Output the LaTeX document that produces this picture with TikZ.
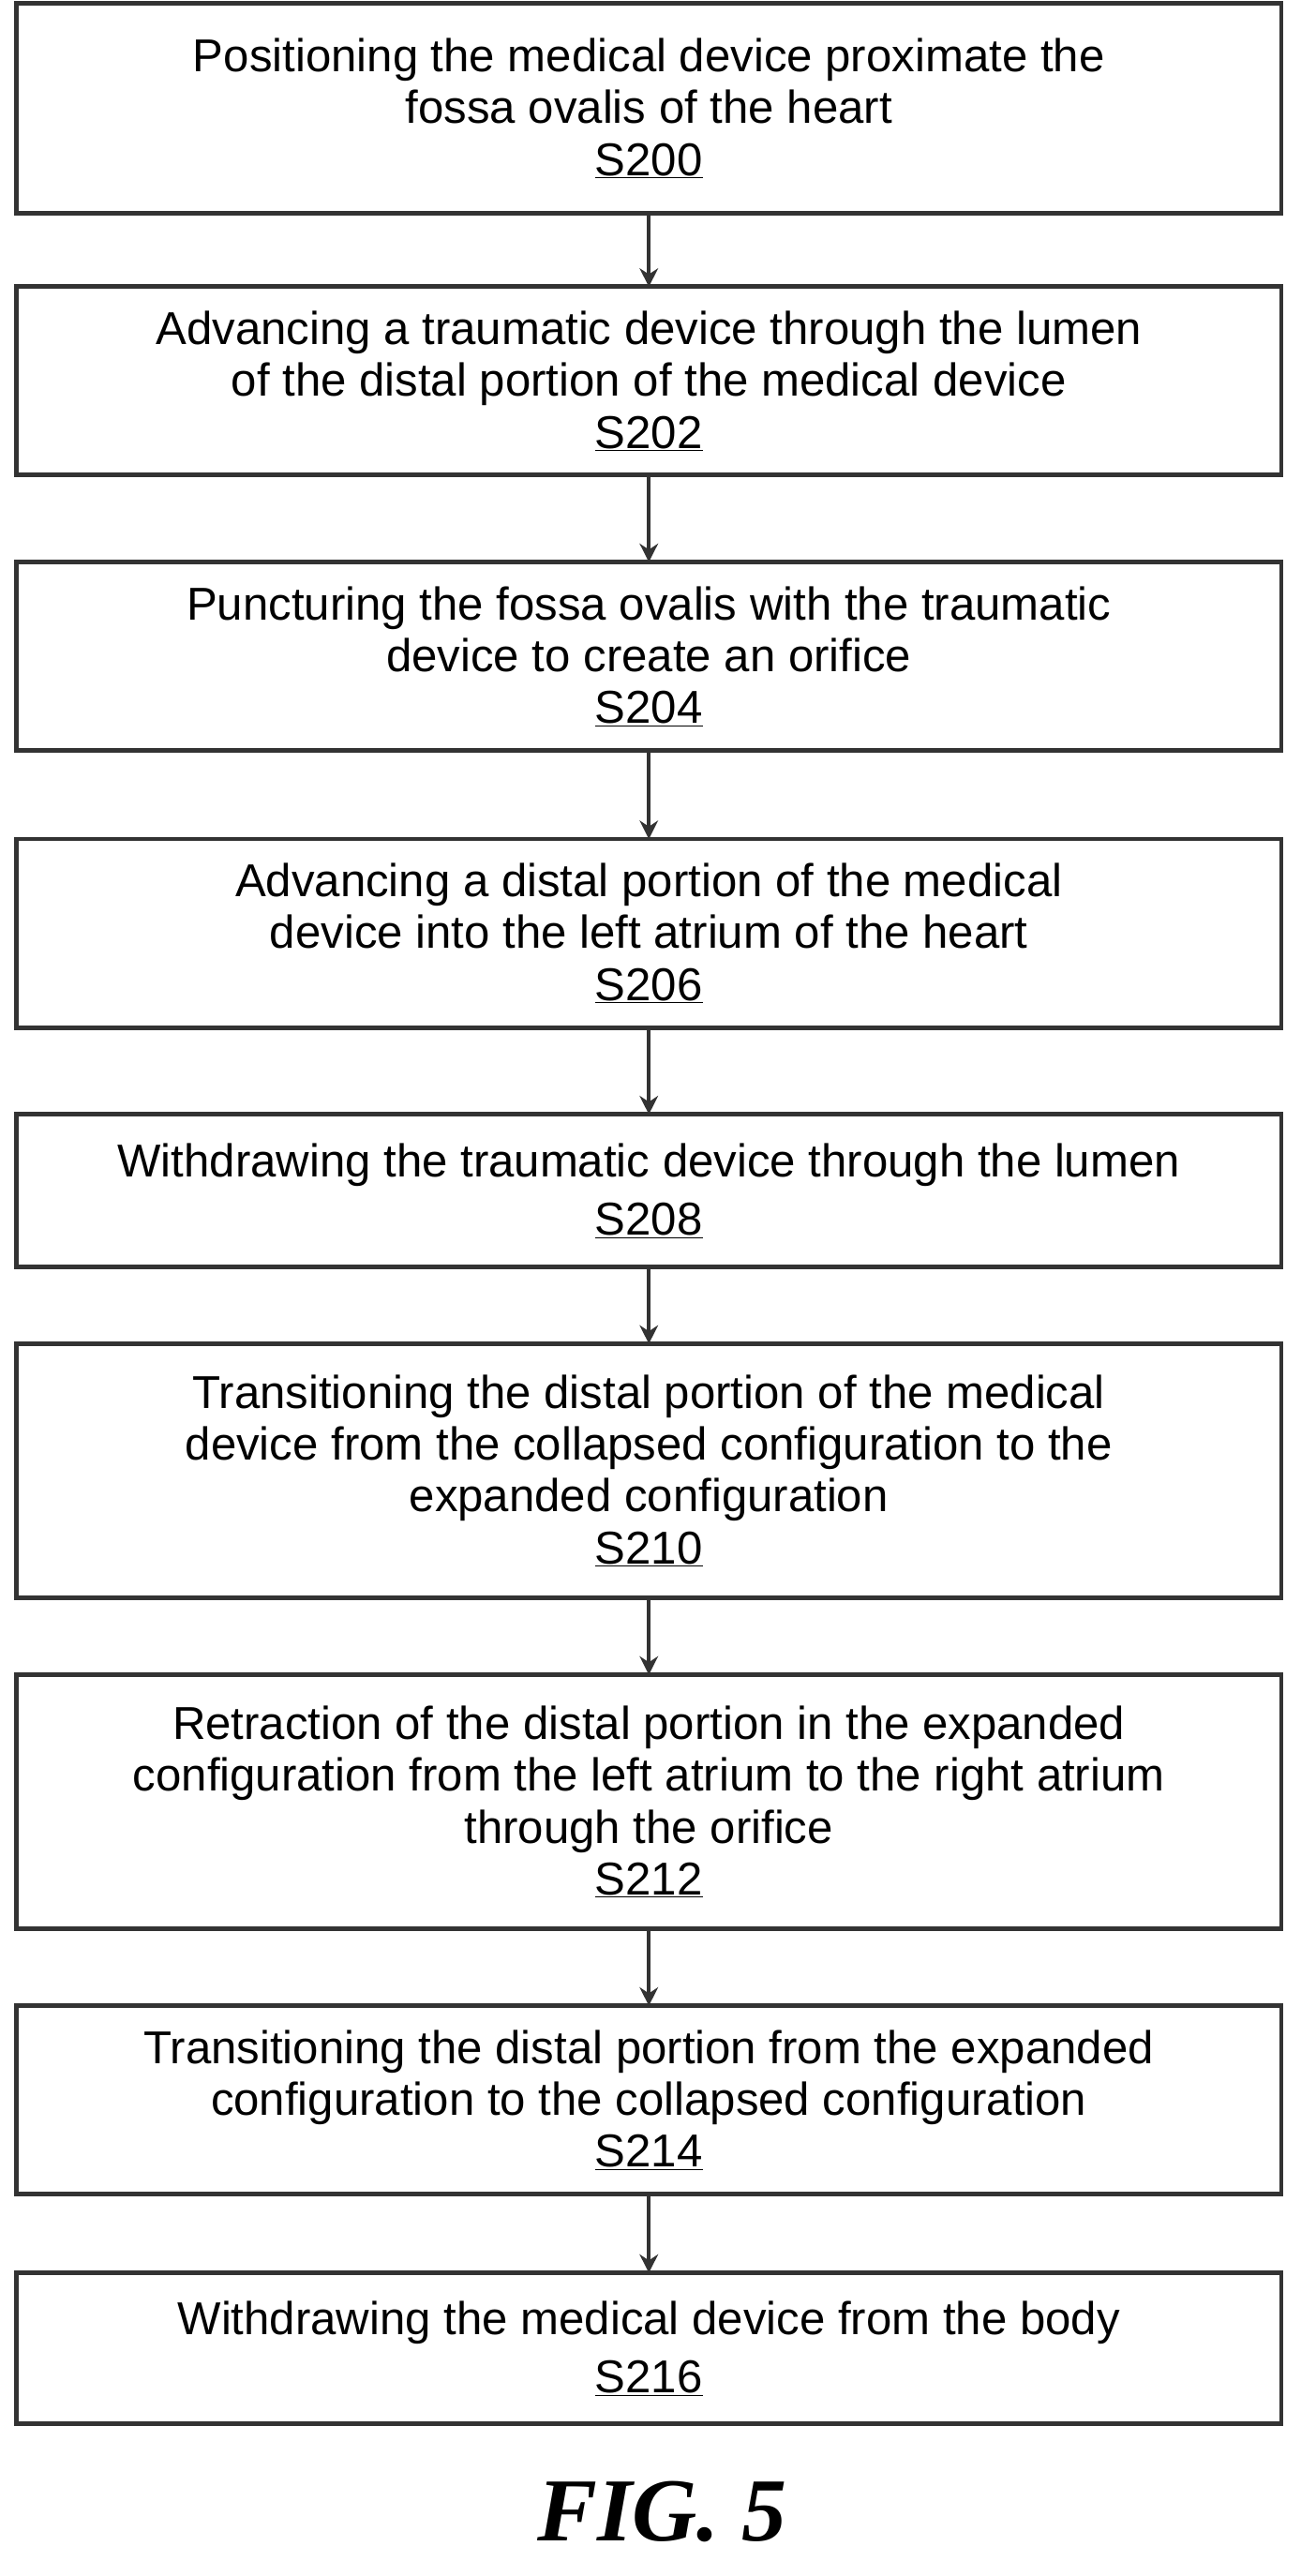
\documentclass[tikz,border=0pt]{standalone}
\usepackage{fontspec}
\usetikzlibrary{arrows.meta}
\setmainfont{Liberation Sans}
\newfontfamily\figfont{Liberation Serif}
\begin{document}
\begin{tikzpicture}[x=0.05cm,y=-0.05cm,
  box/.style={draw=black!80,line width=4pt},
  txt/.style={align=center,font=\fontsize{40}{45}\selectfont},
  arr/.style={draw=black!80,line width=3pt,-{Stealth[length=16pt,width=16pt]}}]
\useasboundingbox (0,0) rectangle (794,1572);
\def\bx#1#2#3#4{\draw[box] (10,#2) rectangle (782,#3); \node[txt] (#1) at (396,{(#2+#3)/2}) {#4};
 \coordinate (#1t) at (396,#2); \coordinate (#1b) at (396,#3);}
\bx{a}{2}{130}{Positioning the medical device proximate the\\fossa ovalis of the heart\\\underline{S200}}
\bx{b}{175}{290}{Advancing a traumatic device through the lumen\\of the distal portion of the medical device\\\underline{S202}}
\bx{c}{343}{458}{Puncturing the fossa ovalis with the traumatic\\device to create an orifice\\\underline{S204}}
\bx{d}{512}{627}{Advancing a distal portion of the medical\\device into the left atrium of the heart\\\underline{S206}}
\bx{e}{680}{773}{Withdrawing the traumatic device through the lumen\\[6pt]\underline{S208}}
\bx{f}{820}{975}{Transitioning the distal portion of the medical\\device from the collapsed configuration to the\\expanded configuration\\\underline{S210}}
\bx{g}{1022}{1177}{Retraction of the distal portion in the expanded\\configuration from the left atrium to the right atrium\\through the orifice\\\underline{S212}}
\bx{h}{1224}{1339}{Transitioning the distal portion from the expanded\\configuration to the collapsed configuration\\\underline{S214}}
\bx{i}{1387}{1479}{Withdrawing the medical device from the body\\[6pt]\underline{S216}}
\draw[arr] (ab) -- (bt);
\draw[arr] (bb) -- (ct);
\draw[arr] (cb) -- (dt);
\draw[arr] (db) -- (et);
\draw[arr] (eb) -- (ft);
\draw[arr] (fb) -- (gt);
\draw[arr] (gb) -- (ht);
\draw[arr] (hb) -- (it);
\node[font=\figfont\bfseries\itshape\fontsize{78}{86}\selectfont] (fig) at (404,1533) {FIG. 5};
\end{tikzpicture}
\end{document}
